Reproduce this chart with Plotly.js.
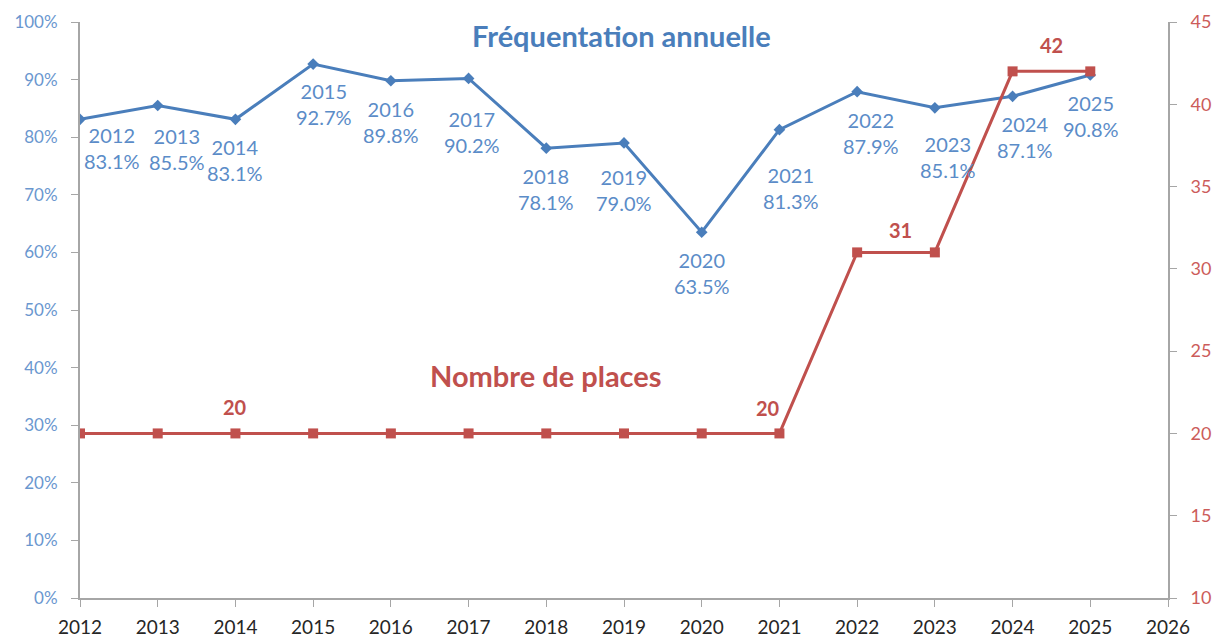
<!DOCTYPE html>
<html>
<head>
<meta charset="utf-8">
<script src="https://cdn.plot.ly/plotly-3.0.1.min.js"></script>
<style>html,body{margin:0;padding:0;background:#fff}#chart{width:1215px;height:637px}</style>
</head>
<body>
<div id="chart"></div>
<script>
var years = [2012,2013,2014,2015,2016,2017,2018,2019,2020,2021,2022,2023,2024,2025];
var frequentation = [0.831,0.855,0.831,0.927,0.898,0.902,0.781,0.790,0.635,0.813,0.879,0.851,0.871,0.908];
var places = [20,20,20,20,20,20,20,20,20,20,31,31,42,42];
var placeLabelYears = [2014, 2021, 2022.5, 2024.5];
var placeLabelValues = [20, 20, 31, 42];

// label offsets (pixels) for the data labels
var blueShiftX = [32,19,0,11,0,3,0,0,0,12,14,13,12,1];
var blueShiftY = [-29,-43,-41,-40,-41,-54,-41,-47,-41,-58,-41,-49,-41,-41];
var redShiftX = [0,-11,4,0];
var redShiftY = [26,25,22,26];

var blue = '#4a7ebb', blueText = '#5b8cc8', red = '#c0504d';
var font = 'Lato, "Open Sans", sans-serif';

var traces = [
  {x: years, y: frequentation, type: 'scatter', mode: 'lines+markers',
   line: {color: blue, width: 3}, marker: {symbol: 'diamond', size: 9, color: blue},
   yaxis: 'y', hoverinfo: 'skip'},
  {x: years, y: places, type: 'scatter', mode: 'lines+markers',
   line: {color: red, width: 3}, marker: {symbol: 'square', size: 10, color: red},
   yaxis: 'y2', hoverinfo: 'skip'}
];

var annotations = [];
for (var i = 0; i < years.length; i++) {
  annotations.push({x: years[i], y: frequentation[i], xref: 'x', yref: 'y',
    xanchor: 'center', yanchor: 'middle',
    text: years[i] + '<br>' + (frequentation[i] * 100).toFixed(1) + '%',
    showarrow: false, xshift: blueShiftX[i], yshift: blueShiftY[i],
    font: {family: font, size: 20, color: blueText}, align: 'center'});
}
for (var j = 0; j < placeLabelYears.length; j++) {
  annotations.push({x: placeLabelYears[j], y: placeLabelValues[j], xref: 'x', yref: 'y2',
    xanchor: 'center', yanchor: 'middle',
    text: '<b>' + placeLabelValues[j] + '</b>', showarrow: false,
    xshift: redShiftX[j], yshift: redShiftY[j],
    font: {family: font, size: 20, color: red}});
}
annotations.push({x: 0.498, y: 0.976, xref: 'paper', yref: 'paper', xanchor: 'center', yanchor: 'middle',
  text: '<b>Fréquentation annuelle</b>',
  showarrow: false, font: {family: font, size: 29, color: blue}});
annotations.push({x: 2018, y: 0.387, xref: 'x', yref: 'y', xanchor: 'center', yanchor: 'middle',
  text: '<b>Nombre de places</b>',
  showarrow: false, font: {family: font, size: 29, color: red}});

var layout = {
  width: 1215, height: 637,
  margin: {l: 80, r: 47, t: 22, b: 39},
  paper_bgcolor: '#fff', plot_bgcolor: '#fff',
  showlegend: false,
  font: {family: font},
  xaxis: {range: [2012, 2026], dtick: 1, tick0: 2012, showgrid: false, zeroline: false,
    showline: true, linecolor: '#a6a6a6', linewidth: 2, ticks: 'outside', ticklen: 7,
    tickcolor: '#a6a6a6', ticklabelstandoff: 4, tickfont: {family: font, size: 19, color: '#262626'}},
  yaxis: {range: [0, 1], dtick: 0.1, tickformat: '.0%', showgrid: false, zeroline: false,
    showline: true, linecolor: '#a6a6a6', linewidth: 2, ticks: 'outside', ticklen: 7,
    tickcolor: '#a6a6a6', ticklabelstandoff: 10, tickfont: {family: font, size: 17, color: '#6a97cf'}},
  yaxis2: {range: [10, 45], dtick: 5, overlaying: 'y', side: 'right', showgrid: false,
    zeroline: false, showline: true, linecolor: '#a6a6a6', linewidth: 2, ticks: 'outside',
    ticklen: 7, tickcolor: '#a6a6a6', ticklabelstandoff: 10, tickfont: {family: font, size: 18, color: '#cc5c5a'}},
  annotations: annotations
};

Plotly.newPlot('chart', traces, layout, {displayModeBar: false, staticPlot: true});
</script>
</body>
</html>
